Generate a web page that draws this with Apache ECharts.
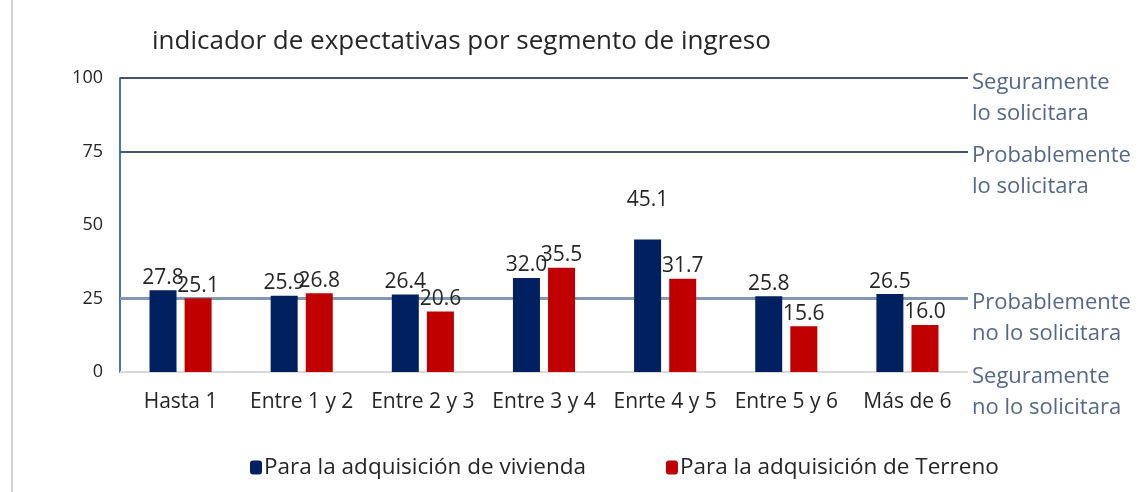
<!DOCTYPE html>
<html>
<head>
<meta charset="utf-8">
<script src="https://cdn.jsdelivr.net/npm/echarts@6/dist/echarts.min.js"></script>
<style>
html,body{margin:0;padding:0;background:#fff;}
#chart{width:1139px;height:492px;}
</style>
</head>
<body>
<div id="chart"></div>
<script>
var categories=['Hasta 1','Entre 1 y 2','Entre 2 y 3','Entre 3 y 4','Enrte 4 y 5','Entre 5 y 6','Más de 6'];
var vivienda=[27.8,25.9,26.4,32.0,45.1,25.8,26.5];
var terreno=[25.1,26.8,20.6,35.5,31.7,15.6,16.0];
var guideValues=[100,75,25,0];
var guideLabels=['Seguramente\nlo solicitara','Probablemente\nlo solicitara','Probablemente\nno lo solicitara','Seguramente\nno lo solicitara'];

var myChart=echarts.init(document.getElementById('chart'));
var font='Open Sans';
var guideColors=['#44546a','#44546a','#8497b0','#d9d9d9'];
var guideWidths=[2,2,3,2];

// lineas guia con su etiqueta a la derecha
var guides=[];
for(var i=0;i<guideValues.length;i++){
    guides.push({
        yAxis:guideValues[i],
        lineStyle:{color:guideColors[i],width:guideWidths[i],type:'solid'},
        label:{show:true,position:'end',formatter:guideLabels[i]}
    });
}

var labelFmt=function(p){return p.value.toFixed(1);};

var option={
    textStyle:{fontFamily:font},
    title:{
        text:'indicador de expectativas por segmento de ingreso',
        left:147,
        top:24,
        textStyle:{fontSize:26,fontWeight:'normal',color:'#262626',fontFamily:font}
    },
    legend:{
        bottom:8,
        left:245,
        itemGap:80,
        itemWidth:12,
        itemHeight:14,
        textStyle:{fontSize:22.5,color:'#262626',fontFamily:font,padding:[0,0,0,-3]},
        data:['Para la adquisición de vivienda','Para la adquisición de Terreno']
    },
    grid:{left:120,right:171,top:78,bottom:120},
    xAxis:{
        type:'category',
        data:categories,
        axisLine:{show:false},
        axisTick:{show:false},
        axisLabel:{fontSize:21,color:'#262626',margin:20,interval:0,fontFamily:font}
    },
    yAxis:{
        type:'value',min:0,max:100,interval:25,
        axisLine:{show:true,lineStyle:{color:'#4472c4',width:2}},
        splitLine:{show:false},
        axisLabel:{fontSize:18,color:'#262626',margin:17,fontFamily:font}
    },
    series:[{
        name:'guias',
        type:'line',
        data:[],
        z:1,
        markLine:{
            silent:true,symbol:'none',z:1,
            label:{
                fontSize:22,color:'#54688a',fontFamily:font,lineHeight:31,
                offset:[0,20],distance:4
            },
            data:guides
        }
    },{
        name:'Para la adquisición de vivienda',
        type:'bar',
        data:vivienda.map(function(v,i){
            return i===4?{value:v,label:{distance:29}}:v;
        }),
        barWidth:27,
        barGap:'30%',
        itemStyle:{color:'#002060'},
        label:{show:true,position:'top',fontSize:21,color:'#262626',distance:2,formatter:labelFmt},
        z:3
    },{
        name:'Para la adquisición de Terreno',
        type:'bar',
        data:terreno,
        barWidth:27,
        itemStyle:{color:'#c00000'},
        label:{show:true,position:'top',fontSize:21,color:'#262626',distance:2,formatter:labelFmt},
        z:3
    }],
    graphic:[{
        type:'line',
        shape:{x1:12,y1:0,x2:12,y2:492},
        style:{stroke:'#d0d0d0',lineWidth:2}
    }]
};

myChart.setOption(option);
</script>
</body>
</html>
